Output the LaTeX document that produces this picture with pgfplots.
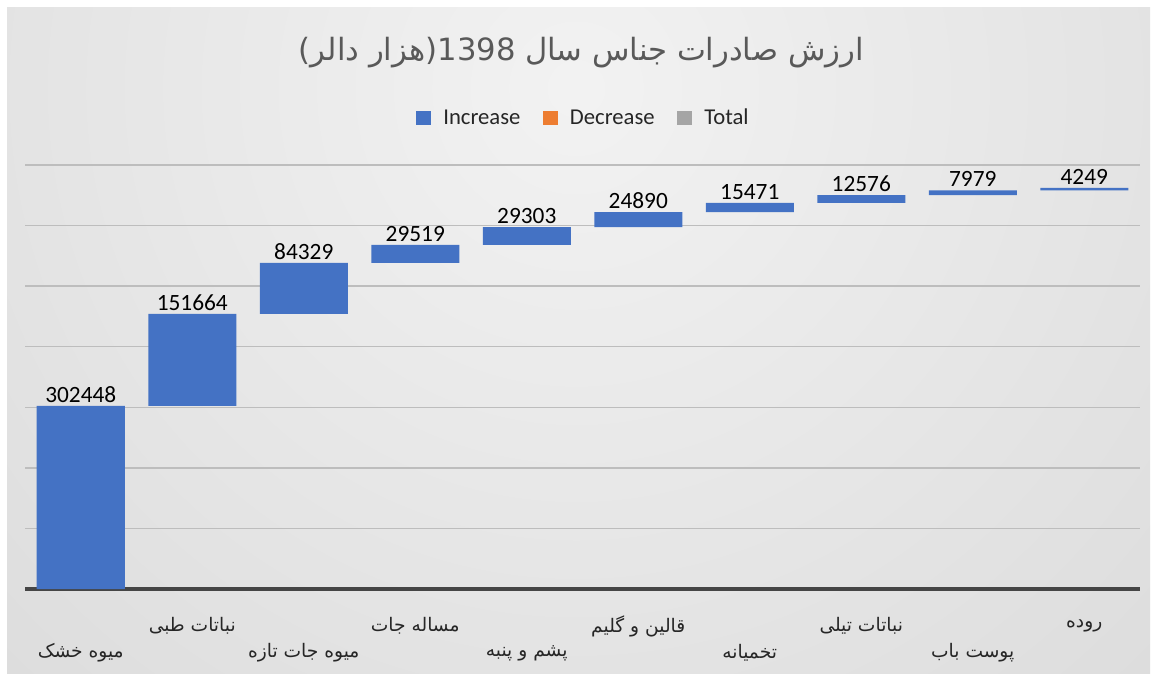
\documentclass[border=0pt]{standalone}
\usepackage{fontspec}
\setmainfont{Carlito}
\newfontfamily\arabicfont[Script=Arabic]{DejaVu Sans}
\TeXXeTstate=1
\usepackage{pgfplots}
\pgfplotsset{compat=1.18}
\usepackage{pgfplotstable}

\definecolor{inc}{HTML}{4472C4}
\definecolor{dec}{HTML}{ED7D31}
\definecolor{tot}{HTML}{A5A5A5}
\definecolor{gridc}{HTML}{BDBDBD}
\definecolor{basec}{HTML}{454545}
\definecolor{txt}{HTML}{262626}

\pgfplotsset{
    sqlegend/.style={legend image code/.code={\fill[#1] (0pt,-5.6pt) rectangle (11.2pt,5.6pt);}},
    frame/.style={at={(18.75pt,64.5pt)}, anchor=south west, scale only axis,
        width=836.25pt, height=318pt, xmin=-0.5, xmax=9.5, ymin=0, ymax=700000},
}

% waterfall: invisible base + visible step; top = base + inc (label position)
\pgfplotstableread{
idx base inc top
0 0 302448 302448
1 302448 151664 454112
2 454112 84329 538441
3 538441 29519 567960
4 567960 29303 597263
5 597263 24890 622153
6 622153 15471 637624
7 637624 12576 650200
8 650200 7979 658179
9 658179 4249 662428
}\wf

\begin{document}
\begin{tikzpicture}
% canvas 1152x675 px, 1px = 0.75pt
\fill[white] (0pt,0pt) rectangle (864pt,506.25pt);
\begin{scope}
\clip (5.25pt,1.5pt) rectangle (862.5pt,500.25pt);
\shade[inner color=white!95!black, outer color=white!78!black] (432pt,440pt) circle (1250pt);
\end{scope}
\node[font=\fontsize{23}{27}\selectfont, text=black!65] at (436pt,467pt) {\arabicfont\beginR ارزش صادرات جناس سال 1398(هزار دالر)\endR};
\begin{axis}[
    frame,
    ybar stacked,
    bar width=66pt,
    scaled y ticks=false,
    xtick={0,...,9},
    xticklabels={
        {\arabicfont\beginR میوه خشک\endR},
        {\arabicfont\beginR نباتات طبی\endR},
        {\arabicfont\beginR میوه جات تازه\endR},
        {\arabicfont\beginR مساله جات\endR},
        {\arabicfont\beginR پشم و پنبه\endR},
        {\arabicfont\beginR قالین و گلیم\endR},
        {\arabicfont\beginR تخمیانه\endR},
        {\arabicfont\beginR نباتات تیلی\endR},
        {\arabicfont\beginR پوست باب\endR},
        {\arabicfont\beginR روده\endR}},
    xticklabel style={anchor=center, font=\fontsize{14}{16}\selectfont, text=txt,
        yshift={-48pt + mod(\ticknum,2)*20.25pt}},
    ytick={100000,200000,...,700000},
    yticklabels={},
    extra y ticks={0},
    extra y tick labels={},
    extra y tick style={grid style={draw=basec, line width=3pt}},
    major tick length=0pt,
    ymajorgrids,
    grid style={draw=gridc, line width=1pt},
    axis line style={draw=none},
    legend style={at={(0.5,1)}, anchor=center, yshift=35.25pt, xshift=1pt,
        draw=none, fill=none, font=\fontsize{17}{20}\selectfont, text=txt,
        legend columns=3,
        /tikz/every odd column/.append style={column sep=7pt},
        /tikz/every even column/.append style={column sep=15pt}},
    legend cell align=left,
]
\addplot[draw=none, fill=none, forget plot] table[x=idx, y=base] {\wf};
\addplot[fill=inc, draw=none, sqlegend] table[x=idx, y=inc] {\wf};
\addlegendentry{Increase}
\addlegendimage{fill=dec, draw=none, sqlegend}
\addlegendentry{Decrease}
\addlegendimage{fill=tot, draw=none, sqlegend}
\addlegendentry{Total}
\end{axis}
% data labels on an unstacked twin axis
\begin{axis}[frame, hide axis]
\addplot[draw=none, mark=none, nodes near coords, point meta=explicit symbolic,
    every node near coord/.append style={font=\fontsize{17.5}{20}\selectfont, text=black, anchor=south, yshift=-1pt}]
    table[x=idx, y=top, meta=inc] {\wf};
\end{axis}
\end{tikzpicture}
\end{document}
